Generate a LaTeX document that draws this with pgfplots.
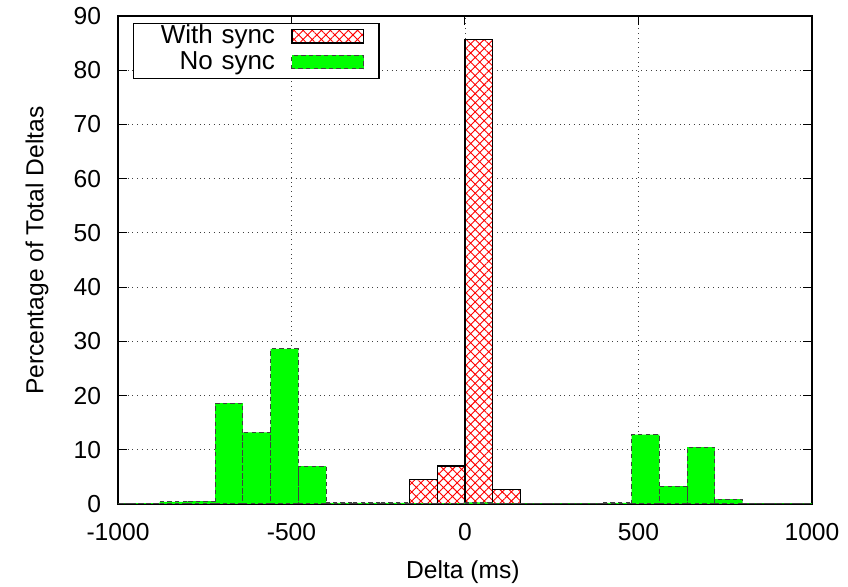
\documentclass[border=0pt]{standalone}
\usepackage{fontspec}
\setmainfont{Liberation Sans}
\usepackage{pgfplots}
\pgfplotsset{compat=1.18}
\usetikzlibrary{patterns.meta}
\definecolor{gpgreen}{RGB}{0,255,0}
\pgfplotsset{boxlegend/.style={legend image code/.code={\draw[##1] (0pt,-3.4pt) rectangle (35.8pt,3.4pt);}}}

\pgfplotstableread{
x y
-160 4.5
-80 7.0
0 85.7
80 2.7
160 2.7
}\withsync

\pgfplotstableread{
x y
-1040 0.1
-960 0.15
-880 0.4
-800 0.55
-720 18.6
-640 13.2
-560 28.6
-480 7.0
-400 0.2
-320 0.2
-240 0.2
-160 0.15
-80 0.15
0 0.3
80 0.1
160 0.1
240 0.1
320 0.1
400 0.2
480 12.8
560 3.3
640 10.5
720 0.9
800 0.1
880 0.1
960 0.1
1040 0.1
}\nosync

\begin{document}
\fontsize{12.3}{14}\selectfont
\begin{tikzpicture}
\useasboundingbox (-59pt,-41.5pt) rectangle (365pt,252pt);
\begin{axis}[
  scale only axis,
  width=347pt, height=244pt,
  xmin=-1000, xmax=1000, ymin=0, ymax=90,
  xtick={-1000,-500,0,500,1000},
  ytick={0,10,...,90},
  grid=major,
  major grid style={black!75, dotted, line width=0.45pt},
  tick style={black, line width=0.5pt},
  major tick length=4.5pt,
  axis line style={line width=0.6pt},
  /pgf/number format/assume math mode=true,
  /pgf/number format/1000 sep={},
  ticklabel style={font=\fontsize{12.3}{14}\selectfont},
  xticklabel style={yshift=-5.4pt},
  yticklabel style={xshift=-4.2pt},
  xlabel={Delta (ms)}, ylabel={Percentage of Total Deltas},
  label style={font=\fontsize{12.3}{14}\selectfont},
  every axis x label/.style={at={(axis description cs:0.497,0)}, yshift=-34pt, anchor=center},
  every axis y label/.style={at={(axis description cs:0,0.519)}, xshift=-40.5pt, rotate=90, anchor=center},
  legend style={at={(axis description cs:0.0216,0.9857)}, anchor=north west,
    draw=black, line width=0.6pt, fill=white,
    font=\fontsize{13}{15}\selectfont,
    inner xsep=7.4pt, inner ysep=0.8pt, row sep=0pt,
    nodes={inner sep=0pt, text height=9.2pt, text depth=3.8pt},
    /tikz/every odd column/.append style={column sep=8.2pt, text width=63.3pt, align=right, yshift=-1pt}},
  legend plot pos=right,
  legend cell align=right,
]
\addplot[ybar interval, draw=black, line width=0.6pt, fill=white,
  postaction={pattern={Hatch[angle=45,distance=3.2pt,line width=0.45pt]}, pattern color=red},
  boxlegend]
  table[x=x,y=y] {\withsync};
\addlegendentry{With sync}
\addplot[ybar interval, draw=black!75, dash pattern=on 2.2pt off 1.6pt, line width=0.5pt, fill=gpgreen,
  boxlegend]
  table[x=x,y=y] {\nosync};
\addlegendentry{No sync}
\end{axis}
\end{tikzpicture}
\end{document}
